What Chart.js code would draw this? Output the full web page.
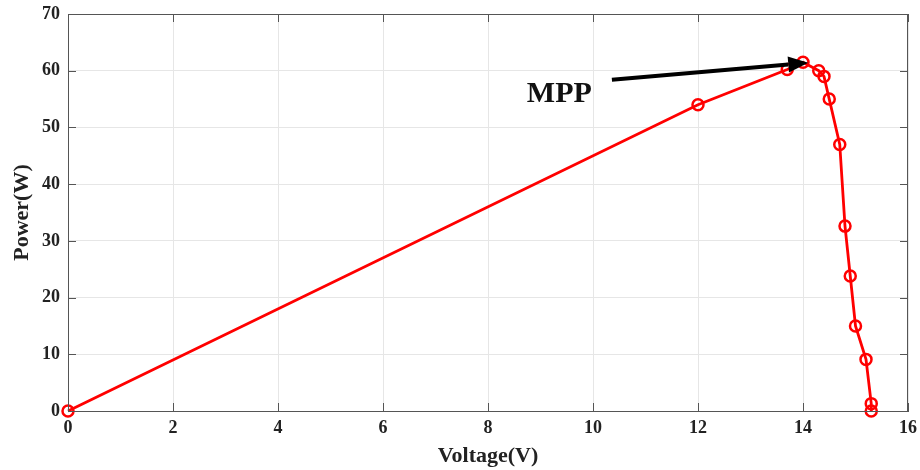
<!DOCTYPE html>
<html>
<head>
<meta charset="utf-8">
<script src="https://cdn.jsdelivr.net/npm/chart.js@4"></script>
<style>
  body { margin: 0; background: #fff; }
</style>
</head>
<body>
<canvas id="pvChart" width="920" height="470"></canvas>
<script>
// P-V curve of the panel
const voltage = [0, 12, 13.7, 14, 14.3, 14.4, 14.5, 14.7, 14.8, 14.9, 15, 15.2, 15.3, 15.3];
const power   = [0, 54, 60.2, 61.5, 60, 59, 55, 47, 32.6, 23.8, 15, 9.1, 1.3, 0];

const xTicks = [0, 2, 4, 6, 8, 10, 12, 14, 16];
const yTicks = [0, 10, 20, 30, 40, 50, 60, 70];

const serif = '"Liberation Serif", "Times New Roman", serif';
const axisColor = '#555';

// box around the plot + MATLAB style inward ticks, and the MPP arrow
const boxPlugin = {
  id: 'box',
  afterDatasetsDraw(chart) {
    const ctx = chart.ctx;
    const a = chart.chartArea;
    const xs = chart.scales.x, ys = chart.scales.y;
    ctx.save();
    ctx.strokeStyle = axisColor;
    ctx.lineWidth = 1;
    ctx.strokeRect(a.left + 0.5, a.top + 0.5, a.right - a.left - 1, a.bottom - a.top);
    ctx.beginPath();
    xTicks.forEach(v => {
      const px = Math.round(xs.getPixelForValue(v)) + 0.5;
      ctx.moveTo(px, a.bottom); ctx.lineTo(px, a.bottom - 8);
      ctx.moveTo(px, a.top); ctx.lineTo(px, a.top + 8);
    });
    yTicks.forEach(v => {
      const py = Math.round(ys.getPixelForValue(v)) + 0.5;
      ctx.moveTo(a.left, py); ctx.lineTo(a.left + 8, py);
      ctx.moveTo(a.right, py); ctx.lineTo(a.right - 8, py);
    });
    ctx.stroke();

    // arrow pointing at the maximum power point
    const x0 = xs.getPixelForValue(10.36), y0 = ys.getPixelForValue(58.4);
    const x1 = xs.getPixelForValue(14.1), y1 = ys.getPixelForValue(61.4);
    const ang = Math.atan2(y1 - y0, x1 - x0);
    const headLen = 20, headW = 8;
    const bx = x1 - headLen * Math.cos(ang), by = y1 - headLen * Math.sin(ang);
    ctx.strokeStyle = '#000';
    ctx.fillStyle = '#000';
    ctx.lineWidth = 4;
    ctx.beginPath();
    ctx.moveTo(x0, y0);
    ctx.lineTo(bx, by);
    ctx.stroke();
    ctx.beginPath();
    ctx.moveTo(x1, y1);
    ctx.lineTo(bx + headW * Math.sin(ang), by - headW * Math.cos(ang));
    ctx.lineTo(bx - headW * Math.sin(ang), by + headW * Math.cos(ang));
    ctx.closePath();
    ctx.fill();

    ctx.font = 'bold 30px ' + serif;
    ctx.fillStyle = '#111';
    ctx.textAlign = 'left';
    ctx.textBaseline = 'alphabetic';
    ctx.fillText('MPP', xs.getPixelForValue(8.74), ys.getPixelForValue(54.5));
    ctx.restore();
  }
};

new Chart(document.getElementById('pvChart'), {
  type: 'line',
  data: {
    datasets: [{
      label: 'P-V',
      data: voltage.map((v, i) => ({ x: v, y: power[i] })),
      borderColor: '#ff0000',
      borderWidth: 2.8,
      pointRadius: 5.5,
      pointBorderWidth: 2.5,
      pointBorderColor: '#ff0000',
      pointBackgroundColor: 'rgba(0,0,0,0)',
      tension: 0,
      clip: false
    }]
  },
  options: {
    responsive: false,
    animation: false,
    layout: { padding: { left: 0, right: 12, top: 14, bottom: 0 } },
    plugins: {
      legend: { display: false },
      tooltip: { enabled: false }
    },
    scales: {
      x: {
        type: 'linear',
        min: 0, max: 16,
        afterFit(scale) {
          scale.height = 59;
          scale.paddingLeft = 0;
          scale.paddingRight = 0;
        },
        afterBuildTicks(scale) { scale.ticks = xTicks.map(v => ({ value: v })); },
        grid: { color: '#e6e6e6', drawTicks: false },
        border: { color: axisColor },
        ticks: { padding: 7, color: '#222', font: { family: serif, size: 18, weight: 'bold' } },
        title: {
          display: true, text: 'Voltage(V)', color: '#222',
          padding: { top: 0, bottom: 0 },
          font: { family: serif, size: 22, weight: 'bold' }
        }
      },
      y: {
        min: 0, max: 70,
        afterFit(scale) {
          scale.width = 68;
          scale.paddingTop = 0;
          scale.paddingBottom = 0;
        },
        afterBuildTicks(scale) { scale.ticks = yTicks.map(v => ({ value: v })); },
        grid: { color: '#e6e6e6', drawTicks: false },
        border: { color: axisColor },
        ticks: { padding: 8, color: '#222', font: { family: serif, size: 18, weight: 'bold' } },
        title: {
          display: true, text: 'Power(W)', color: '#222',
          padding: { top: 9, bottom: 0 },
          font: { family: serif, size: 22, weight: 'bold' }
        }
      }
    }
  },
  plugins: [boxPlugin]
});
</script>
</body>
</html>
